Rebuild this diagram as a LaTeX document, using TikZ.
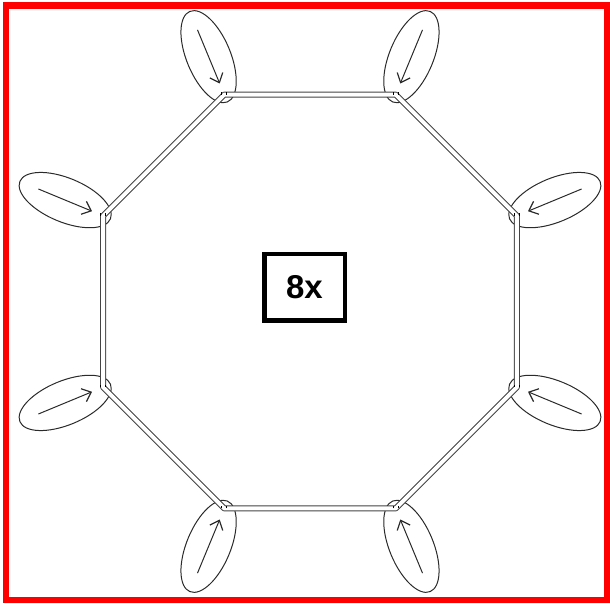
\documentclass[tikz,border=0pt]{standalone}
\usepackage{fontspec}
\setmainfont{Liberation Sans}
\usetikzlibrary{shapes.geometric,arrows.meta,calc}
\definecolor{edgegray}{HTML}{444444}
\definecolor{inkgray}{HTML}{2A2A2A}
\begin{document}
\begin{tikzpicture}[x=1pt,y=1pt,
  petal/.style={draw=inkgray, line width=1pt, ellipse, minimum width=98pt, minimum height=44pt, inner sep=0pt},
  wall/.style={draw=edgegray, line width=1pt, double=white, double distance=4pt, line join=round},
  flow/.style={draw=inkgray, line width=1pt, -{Straight Barb[length=8pt,width=14pt,line width=1.2pt]}},
  vtick/.style={draw=black, line width=1.3pt},
  labelbox/.style={draw=black, line width=4.5pt, minimum width=80.5pt, minimum height=66.5pt, inner sep=0pt, font=\bfseries\fontsize{33}{37}\selectfont}]
\useasboundingbox (0,0) rectangle (610,603);
\draw[red, line width=6.5pt] (6,3) rectangle (607.5,597.5);
\coordinate (c) at (310,301.5);
\foreach \i/\a in {1/22.5,2/67.5,3/112.5,4/157.5,5/202.5,6/247.5,7/292.5,8/337.5}{
  \coordinate (v\i) at ($(c)+(\a:224)$);
  \node[petal, rotate=\a] (e\i) at ($(c)+(\a:265)$) {};
  \coordinate (t\i) at ($(c)+(\a:294)$);
  \coordinate (h\i) at ($(c)+(\a:236)$);
}
\draw[wall] (v1) -- (v2) -- (v3) -- (v4) -- (v5) -- (v6) -- (v7) -- (v8) -- cycle;
\foreach \i in {1,...,8}{
  \draw[flow] (t\i) -- (h\i);
  \draw[vtick] ($(v\i)+(-2.5,0)$) -- ($(v\i)+(-2.5,2.5)$);
  \draw[vtick] ($(v\i)+(2.5,0)$) -- ($(v\i)+(2.5,2.5)$);
}
\node[labelbox] (lbl) at (304.5,315.5) {8x};
\end{tikzpicture}
\end{document}
